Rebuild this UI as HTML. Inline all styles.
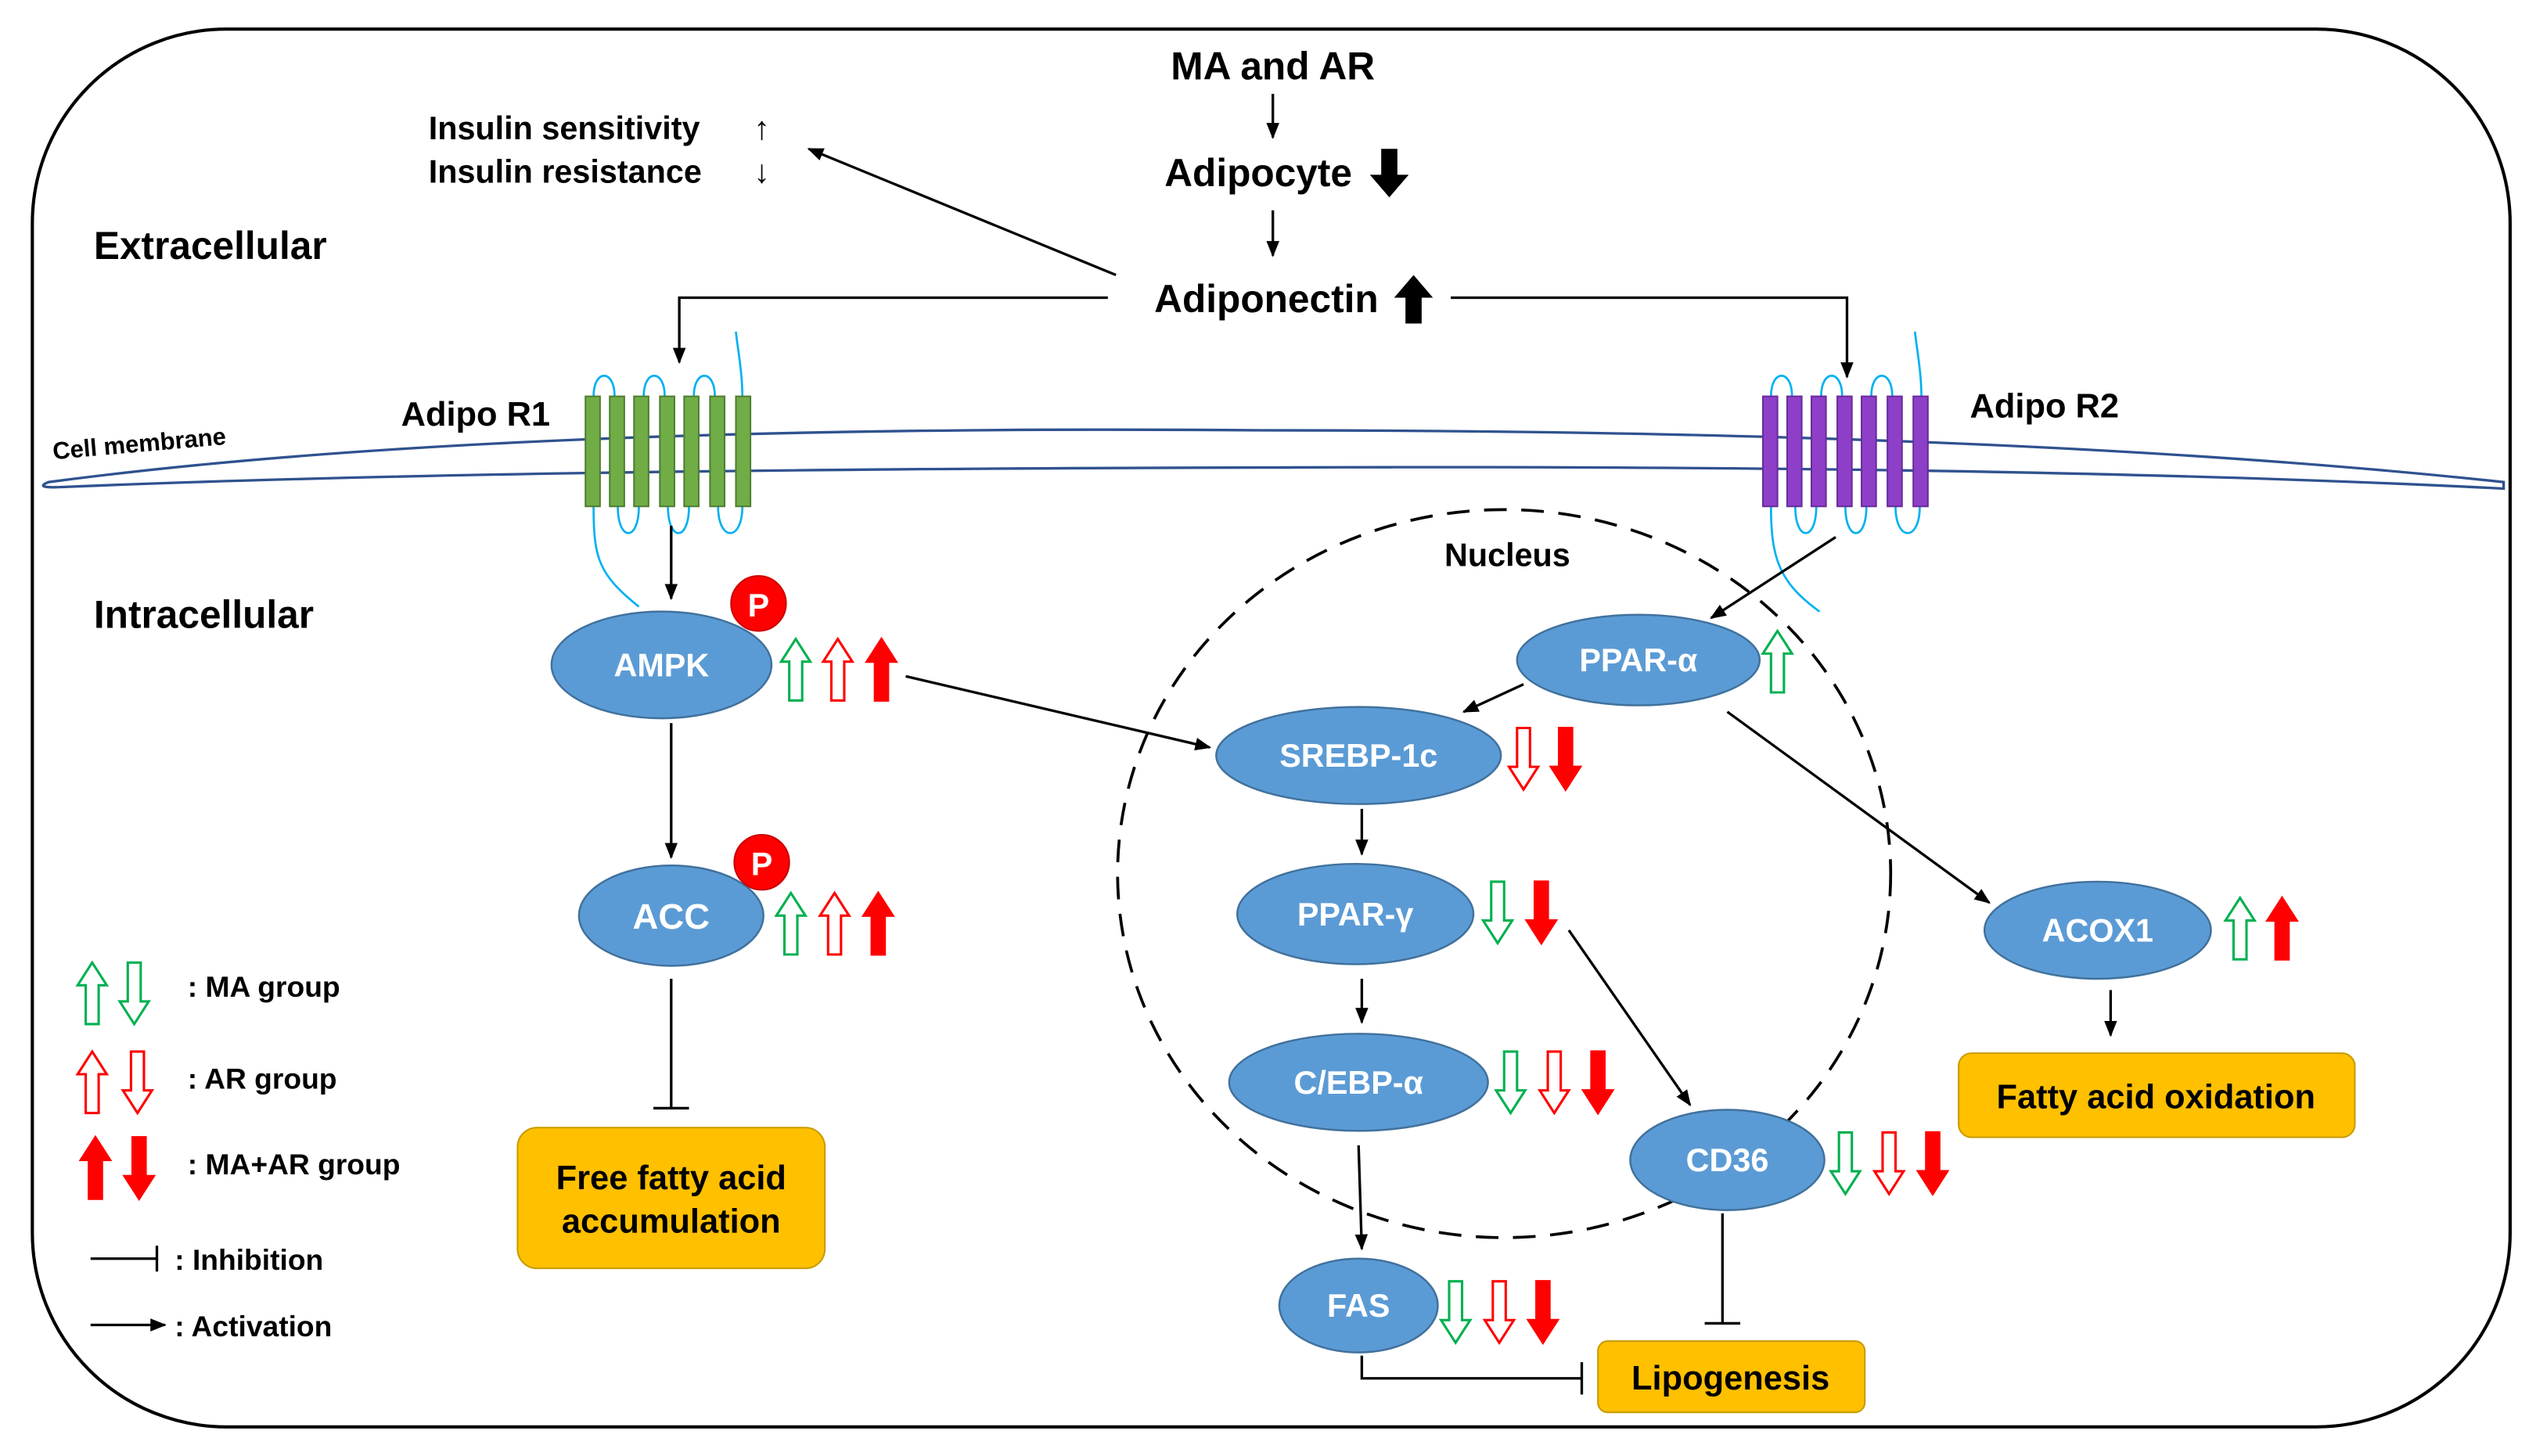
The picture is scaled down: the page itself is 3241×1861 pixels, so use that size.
<!DOCTYPE html>
<html><head><meta charset="utf-8"><style>
html,body{margin:0;padding:0;background:#fff;}
svg{display:block;}
text{font-family:"Liberation Sans",sans-serif;}
</style></head><body>
<svg width="3241" height="1861" viewBox="0 0 1568 900" preserveAspectRatio="none" xmlns="http://www.w3.org/2000/svg">
<defs>
<marker id="ah" markerWidth="10" markerHeight="10" refX="9" refY="5" orient="auto" markerUnits="userSpaceOnUse"><path d="M0,1 L10,5 L0,9 Z" fill="#000"/></marker>
<path id="up" d="M9 0 L18 14 L13 14 L13 38 L5 38 L5 14 L0 14 Z"/>
<path id="dn" d="M5 0 L13 0 L13 24 L18 24 L9 38 L0 24 L5 24 Z"/>
<path id="bup" d="M12 0 L24 14 L17 14 L17 30 L7 30 L7 14 L0 14 Z"/>
<path id="bdn" d="M7 0 L17 0 L17 16 L24 16 L12 30 L0 16 L7 16 Z"/>
</defs>
<rect x="20" y="18" width="1532" height="864" rx="120" fill="#fff" stroke="#000" stroke-width="2"/>

<!-- top -->
<text x="787" y="49" font-size="24" font-weight="bold" text-anchor="middle">MA and AR</text>
<line x1="787" y1="58" x2="787" y2="85" stroke="#000" stroke-width="1.6" marker-end="url(#ah)"/>
<text x="778" y="115" font-size="24" font-weight="bold" text-anchor="middle">Adipocyte</text>
<use href="#bdn" x="847" y="92" fill="#000"/>
<line x1="787" y1="130" x2="787" y2="158" stroke="#000" stroke-width="1.6" marker-end="url(#ah)"/>
<text x="783" y="193" font-size="24" font-weight="bold" text-anchor="middle">Adiponectin</text>
<use href="#bup" x="862" y="170" fill="#000"/>
<text x="265" y="86" font-size="20" font-weight="bold">Insulin sensitivity</text>
<text x="265" y="113" font-size="20" font-weight="bold">Insulin resistance</text>
<text x="466" y="86" font-size="20">↑</text>
<text x="466" y="113" font-size="20">↓</text>
<line x1="690" y1="170" x2="500" y2="92" stroke="#000" stroke-width="1.6" marker-end="url(#ah)"/>
<polyline points="685,184 420,184 420,224" fill="none" stroke="#000" stroke-width="1.6" marker-end="url(#ah)"/>
<polyline points="897,184 1142,184 1142,233" fill="none" stroke="#000" stroke-width="1.6" marker-end="url(#ah)"/>
<text x="58" y="160" font-size="24" font-weight="bold">Extracellular</text>
<text x="58" y="388" font-size="24" font-weight="bold">Intracellular</text>

<!-- membrane -->
<path d="M30 298 Q 300 262 780 266 Q 1250 266 1548 298 L1548 302 Q 1250 287 780 289 Q 300 290 40 301 Q 20 302 30 298 Z" fill="none" stroke="#2f528f" stroke-width="1.6"/>
<text x="33" y="284" font-size="15" font-weight="bold" transform="rotate(-5 33 284)">Cell membrane</text>

<!-- R1 -->
<g fill="none" stroke="#00b0f0" stroke-width="1.3">
<path d="M367 245 C367 228 380 228 380 245"/><path d="M398 245 C398 228 411 228 411 245"/><path d="M429 245 C429 228 442 228 442 245"/>
<path d="M459 245 C459 230 456 215 455 205"/>
<path d="M382 313 C382 335 395 335 395 313"/><path d="M413 313 C413 335 426 335 426 313"/><path d="M444 313 C444 335 459 335 459 313"/>
<path d="M367 313 C367 345 370 355 395 375"/>
</g>
<g fill="#70ad47" stroke="#507e32" stroke-width="1">
<rect x="362" y="245" width="9" height="68"/><rect x="377" y="245" width="9" height="68"/><rect x="392" y="245" width="9" height="68"/><rect x="408" y="245" width="9" height="68"/><rect x="423" y="245" width="9" height="68"/><rect x="439" y="245" width="9" height="68"/><rect x="455" y="245" width="9" height="68"/>
</g>
<text x="248" y="263" font-size="21" font-weight="bold">Adipo R1</text>

<!-- R2 -->
<g fill="none" stroke="#00b0f0" stroke-width="1.3">
<path d="M1095 245 C1095 228 1108 228 1108 245"/><path d="M1126 245 C1126 228 1139 228 1139 245"/><path d="M1157 245 C1157 228 1170 228 1170 245"/>
<path d="M1188 245 C1188 230 1185 215 1184 205"/>
<path d="M1110 313 C1110 335 1123 335 1123 313"/><path d="M1141 313 C1141 335 1154 335 1154 313"/><path d="M1172 313 C1172 335 1187 335 1187 313"/>
<path d="M1095 313 C1095 345 1100 360 1125 378"/>
</g>
<g fill="#8e3fc8" stroke="#6a2c9a" stroke-width="1">
<rect x="1090" y="245" width="9" height="68"/><rect x="1105" y="245" width="9" height="68"/><rect x="1120" y="245" width="9" height="68"/><rect x="1136" y="245" width="9" height="68"/><rect x="1151" y="245" width="9" height="68"/><rect x="1167" y="245" width="9" height="68"/><rect x="1183" y="245" width="9" height="68"/>
</g>
<text x="1218" y="258" font-size="21" font-weight="bold">Adipo R2</text>

<!-- nucleus -->
<ellipse cx="930" cy="540" rx="239" ry="225" fill="none" stroke="#000" stroke-width="1.8" stroke-dasharray="14,9"/>
<text x="932" y="350" font-size="20" font-weight="bold" text-anchor="middle">Nucleus</text>

<!-- connectors -->
<g stroke="#000" stroke-width="1.6" fill="none">
<line x1="415" y1="325" x2="415" y2="370" marker-end="url(#ah)"/>
<line x1="560" y1="418" x2="748" y2="462" marker-end="url(#ah)"/>
<line x1="415" y1="447" x2="415" y2="530" marker-end="url(#ah)"/>
<line x1="415" y1="605" x2="415" y2="685"/><line x1="404" y1="685" x2="426" y2="685"/>
<line x1="1135" y1="332" x2="1058" y2="382" marker-end="url(#ah)"/>
<line x1="942" y1="423" x2="905" y2="440" marker-end="url(#ah)"/>
<line x1="1068" y1="440" x2="1230" y2="558" marker-end="url(#ah)"/>
<line x1="1305" y1="612" x2="1305" y2="640" marker-end="url(#ah)"/>
<line x1="842" y1="500" x2="842" y2="528" marker-end="url(#ah)"/>
<line x1="970" y1="575" x2="1045" y2="683" marker-end="url(#ah)"/>
<line x1="842" y1="605" x2="842" y2="632" marker-end="url(#ah)"/>
<line x1="840" y1="708" x2="842" y2="772" marker-end="url(#ah)"/>
<line x1="1065" y1="750" x2="1065" y2="818"/><line x1="1054" y1="818" x2="1076" y2="818"/>
<polyline points="842,838 842,852 978,852"/><line x1="978" y1="842" x2="978" y2="862"/>
</g>

<!-- nodes -->
<g fill="#5b9bd5" stroke="#41719c" stroke-width="1.2">
<ellipse cx="409" cy="411" rx="68" ry="33"/>
<ellipse cx="415" cy="566" rx="57" ry="31"/>
<ellipse cx="1013" cy="408" rx="75" ry="28"/>
<ellipse cx="840" cy="467" rx="88" ry="30"/>
<ellipse cx="1297" cy="575" rx="70" ry="30"/>
<ellipse cx="838" cy="565" rx="73" ry="31"/>
<ellipse cx="840" cy="669" rx="80" ry="30"/>
<ellipse cx="1068" cy="717" rx="60" ry="31"/>
<ellipse cx="840" cy="807" rx="49" ry="29"/>
</g>
<g fill="#fff" font-size="20" font-weight="bold" text-anchor="middle">
<text x="409" y="418">AMPK</text>
<text x="415" y="574" font-size="22">ACC</text>
<text x="1013" y="415">PPAR-α</text>
<text x="840" y="474">SREBP-1c</text>
<text x="1297" y="582">ACOX1</text>
<text x="838" y="572">PPAR-γ</text>
<text x="840" y="676">C/EBP-α</text>
<text x="1068" y="724">CD36</text>
<text x="840" y="814">FAS</text>
</g>
<circle cx="469" cy="373" r="17" fill="#f00" stroke="#c00"/><text x="469" y="381" fill="#fff" font-size="20" font-weight="bold" text-anchor="middle">P</text>
<circle cx="471" cy="533" r="17" fill="#f00" stroke="#c00"/><text x="471" y="541" fill="#fff" font-size="20" font-weight="bold" text-anchor="middle">P</text>

<!-- boxes -->
<rect x="320" y="697" width="190" height="87" rx="12" fill="#ffc000" stroke="#c89b00"/>
<text x="415" y="735" font-size="21" font-weight="bold" text-anchor="middle">Free fatty acid</text>
<text x="415" y="762" font-size="21" font-weight="bold" text-anchor="middle">accumulation</text>
<rect x="1211" y="651" width="245" height="52" rx="8" fill="#ffc000" stroke="#c89b00"/>
<text x="1333" y="685" font-size="21" font-weight="bold" text-anchor="middle">Fatty acid oxidation</text>
<rect x="988" y="829" width="165" height="44" rx="6" fill="#ffc000" stroke="#c89b00"/>
<text x="1070" y="859" font-size="21" font-weight="bold" text-anchor="middle">Lipogenesis</text>

<!-- indicator arrows -->
<g stroke-width="1.5">
<use href="#up" x="483" y="395" fill="#fff" stroke="#00b050"/>
<use href="#up" x="509" y="395" fill="#fff" stroke="#f00"/>
<use href="#up" x="536" y="395" fill="#f00" stroke="#f00"/>
<use href="#up" x="480" y="552" fill="#fff" stroke="#00b050"/>
<use href="#up" x="507" y="552" fill="#fff" stroke="#f00"/>
<use href="#up" x="534" y="552" fill="#f00" stroke="#f00"/>
<use href="#up" x="1090" y="390" fill="#fff" stroke="#00b050"/>
<use href="#dn" x="933" y="450" fill="#fff" stroke="#f00"/>
<use href="#dn" x="959" y="450" fill="#f00" stroke="#f00"/>
<use href="#up" x="1376" y="555" fill="#fff" stroke="#00b050"/>
<use href="#up" x="1402" y="555" fill="#f00" stroke="#f00"/>
<use href="#dn" x="917" y="545" fill="#fff" stroke="#00b050"/>
<use href="#dn" x="944" y="545" fill="#f00" stroke="#f00"/>
<use href="#dn" x="925" y="650" fill="#fff" stroke="#00b050"/>
<use href="#dn" x="952" y="650" fill="#fff" stroke="#f00"/>
<use href="#dn" x="979" y="650" fill="#f00" stroke="#f00"/>
<use href="#dn" x="1132" y="700" fill="#fff" stroke="#00b050"/>
<use href="#dn" x="1159" y="700" fill="#fff" stroke="#f00"/>
<use href="#dn" x="1186" y="700" fill="#f00" stroke="#f00"/>
<use href="#dn" x="891" y="792" fill="#fff" stroke="#00b050"/>
<use href="#dn" x="918" y="792" fill="#fff" stroke="#f00"/>
<use href="#dn" x="945" y="792" fill="#f00" stroke="#f00"/>
<!-- legend -->
<use href="#up" x="48" y="595" fill="#fff" stroke="#00b050"/>
<use href="#dn" x="74" y="595" fill="#fff" stroke="#00b050"/>
<use href="#up" x="48" y="650" fill="#fff" stroke="#f00"/>
<use href="#dn" x="76" y="650" fill="#fff" stroke="#f00"/>
<use href="#up" x="50" y="703" fill="#f00" stroke="#f00"/>
<use href="#dn" x="77" y="703" fill="#f00" stroke="#f00"/>
</g>
<g font-size="18" font-weight="bold">
<text x="116" y="616">: MA group</text>
<text x="116" y="673">: AR group</text>
<text x="116" y="726">: MA+AR group</text>
<text x="108" y="785">: Inhibition</text>
<text x="108" y="826">: Activation</text>
</g>
<line x1="56" y1="778" x2="97" y2="778" stroke="#000" stroke-width="1.6"/><line x1="97" y1="770" x2="97" y2="786" stroke="#000" stroke-width="1.6"/>
<line x1="56" y1="819" x2="102" y2="819" stroke="#000" stroke-width="1.6" marker-end="url(#ah)"/>
</svg>
</body></html>
